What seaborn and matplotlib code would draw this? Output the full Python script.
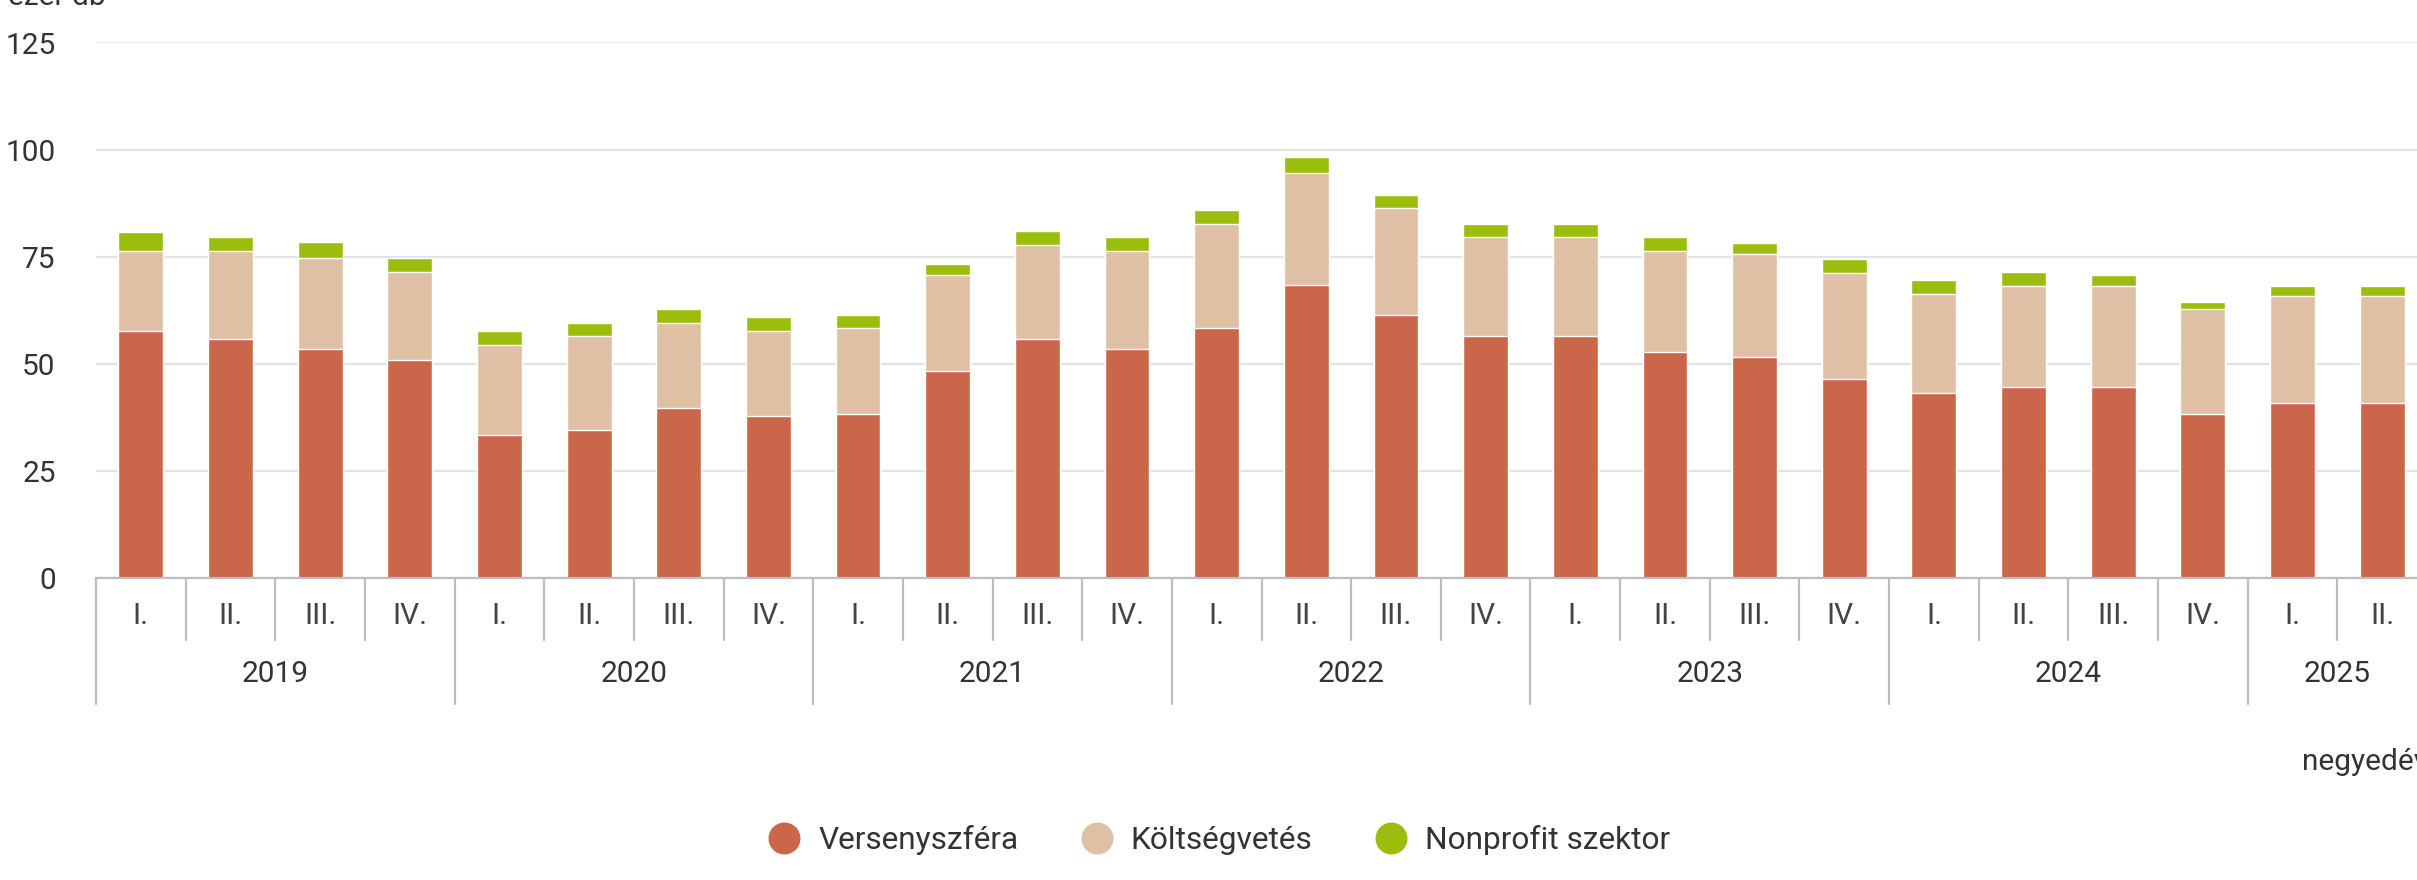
import matplotlib
matplotlib.use("Agg")
import matplotlib.pyplot as plt
from matplotlib.lines import Line2D
import pandas as pd
import seaborn as sns

# Quarterly counts (thousand units) by sector
years = ["2019", "2020", "2021", "2022", "2023", "2024", "2025"]
quarters = ["I.", "II.", "III.", "IV."]
quarters_per_year = [4, 4, 4, 4, 4, 4, 2]

versenyszfera = [57.7, 55.9, 53.4, 50.9,
                 33.3, 34.6, 39.6, 37.7,
                 38.3, 48.4, 55.9, 53.4,
                 58.4, 68.4, 61.5, 56.5,
                 56.5, 52.7, 51.5, 46.5,
                 43.3, 44.5, 44.5, 38.3,
                 40.8, 40.8]
koltsegvetes = [18.7, 20.5, 21.2, 20.5,
                21.2, 21.8, 19.9, 20.0,
                20.0, 22.3, 21.8, 23.0,
                24.3, 26.1, 24.9, 23.0,
                23.0, 23.6, 24.2, 24.8,
                23.0, 23.7, 23.7, 24.4,
                25.0, 25.0]
nonprofit = [4.4, 3.3, 3.8, 3.2,
             3.2, 3.2, 3.3, 3.2,
             3.2, 2.6, 3.2, 3.3,
             3.2, 3.8, 3.1, 3.2,
             3.2, 3.2, 2.6, 3.2,
             3.2, 3.2, 2.5, 1.8,
             2.4, 2.4]

series_names = ["Versenyszféra", "Költségvetés", "Nonprofit szektor"]
series_colors = ["#CA664A", "#DFC0A5", "#9BBD0E"]
y_ticks = [0, 25, 50, 75, 100, 125]
unit_label = "ezer db"
axis_label = "negyedév"

# Long-form table with one row per quarter
year_col, quarter_col = [], []
for y, n in zip(years, quarters_per_year):
    year_col += [y] * n
    quarter_col += quarters[:n]
df = pd.DataFrame({
    "year": year_col,
    "quarter": quarter_col,
    "v": versenyszfera,
    "k": koltsegvetes,
    "n": nonprofit,
})
df["period"] = df["year"] + " " + df["quarter"]
df["lvl1"] = df["v"]
df["lvl2"] = df["v"] + df["k"]
df["lvl3"] = df["v"] + df["k"] + df["n"]
order = list(df["period"])

sns.set_theme(style="white")
plt.rcParams["font.family"] = ["Roboto", "DejaVu Sans"]
FS = 21.5
FS_LEG = 22.8
TEXT = "#333333"

W, H = 2417, 880
fig = plt.figure(figsize=(W / 100, H / 100), dpi=100)
fig.patch.set_facecolor("white")

ax_left, ax_right, ax_top, ax_bottom = 96, 2427, 42.5, 578
ax = fig.add_axes([ax_left / W, 1 - ax_bottom / H,
                   (ax_right - ax_left) / W, (ax_bottom - ax_top) / H])
ax_h_px = ax_bottom - ax_top

# Stacked bars: draw cumulative totals from the top layer downwards
for col, color in zip(["lvl3", "lvl2", "lvl1"], series_colors[::-1]):
    sns.barplot(data=df, x="period", y=col, order=order, color=color,
                saturation=1, width=0.5, errorbar=None,
                edgecolor="white", linewidth=1.0, ax=ax, zorder=3)

ax.set_xlim(-0.5, len(order) - 0.5)
ax.set_ylim(0, 125)
ax.set_yticks(y_ticks)
ax.set_yticklabels([str(t) for t in y_ticks])
ax.set_xticks(range(len(order)))
ax.set_xticklabels(df["quarter"])
ax.set_xlabel("")
ax.set_ylabel("")

ax.grid(axis="y", color="#e3e3e3", linewidth=1.6, zorder=0)
ax.grid(axis="x", visible=False)
for s in ["top", "right", "left"]:
    ax.spines[s].set_visible(False)
ax.spines["bottom"].set_color("#bdbdbd")
ax.spines["bottom"].set_linewidth(1.6)
ax.spines["bottom"].set_zorder(5)

ax.tick_params(axis="y", length=0, pad=29, labelsize=FS, labelcolor=TEXT)
ax.tick_params(axis="x", length=0, pad=17, labelsize=FS, labelcolor="#444444")

# Category dividers: short for quarters, long at year boundaries
xt = ax.get_xaxis_transform()
long_depth = 126 / ax_h_px
short_depth = 62 / ax_h_px
starts = [0]
for n in quarters_per_year:
    starts.append(starts[-1] + n)
for b in range(len(order) + 1):
    depth = long_depth if b in starts else short_depth
    ax.plot([b - 0.5, b - 0.5], [0, -depth], transform=xt, color="#bdbdbd",
            linewidth=1.6, clip_on=False, zorder=5)

# Year labels centred under their quarters
for y, s, n in zip(years, starts[:-1], quarters_per_year):
    ax.text(s + (n - 1) / 2, -96 / ax_h_px, y, transform=xt, ha="center",
            va="center", fontsize=FS, color=TEXT)

fig.text(8 / W, 1 - 5 / H, unit_label, ha="left", va="baseline",
         fontsize=FS, color=TEXT)
fig.text(2302 / W, 1 - 762 / H, axis_label, ha="left", va="center",
         fontsize=FS, color=TEXT)

handles = [Line2D([], [], linestyle="none", marker="o", markersize=22,
                  markerfacecolor=c, markeredgecolor=c) for c in series_colors]
fig.legend(handles, series_names, loc="center", ncol=3, frameon=False,
           bbox_to_anchor=(1219.5 / W, 1 - 840 / H), fontsize=FS_LEG,
           handlelength=0.95, handletextpad=0.6, columnspacing=2.0,
           borderpad=0, labelcolor=TEXT)

fig.savefig("out.png", dpi=100, facecolor="white")
